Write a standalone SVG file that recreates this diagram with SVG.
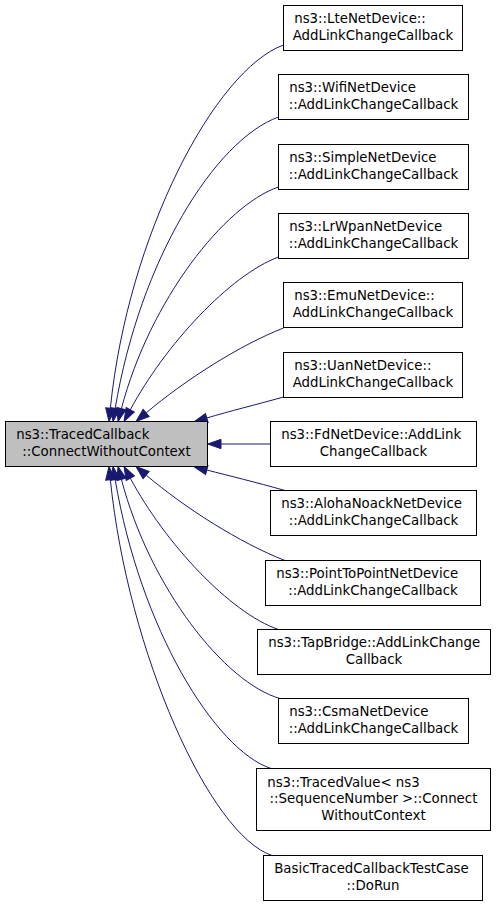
<svg xmlns="http://www.w3.org/2000/svg" width="496" height="907" viewBox="0 0 496 907">
<style>
.nd rect{fill:#fff;stroke:#000;stroke-width:1}
#node1 rect{fill:#bfbfbf}
text{font-family:"DejaVu Sans","Liberation Sans",sans-serif;font-size:13.33px;fill:#000}
.m{text-anchor:middle}
.e path{fill:none;stroke:#191970;stroke-width:1;marker-end:url(#ah)}
</style>
<defs>
<marker id="ah" markerUnits="userSpaceOnUse" viewBox="0 -5 14 10" refX="0" refY="0" markerWidth="14" markerHeight="10" orient="auto" overflow="visible">
<path d="M0,-4.67 L13.3,0 L0,4.67 Z" fill="#191970" stroke="#191970" stroke-width="1"/>
</marker>
</defs>
<rect width="496" height="907" fill="#fff"/>
<g class="e" id="edges">
<path d="M283.5,45 C215,70 128,235 110.35,408.3"/>
<path d="M278.5,117 C215,140 140,260 115.2,408.4"/>
<path d="M278.5,187 C225,205 150,300 121.4,408.6"/>
<path d="M278.5,257 C230,275 165,345 130.3,409.8"/>
<path d="M283.5,328 C240,345 185,380 146.15,412.9"/>
<path d="M283.5,397 C255,405 230,411 206.8,418"/>
<path d="M270.5,444 L221,444"/>
<path d="M285,490.5 C255,482 230,476 206.8,470"/>
<path d="M285,560.5 C240,543 185,508 146.15,475.1"/>
<path d="M278.5,629.5 C230,613 165,543 130.3,478.2"/>
<path d="M280,698.5 C225,683 150,588 121.4,479.4"/>
<path d="M271,768.5 C215,750 140,628 115.2,479.6"/>
<path d="M272,855.5 C210,835 128,653 110.35,479.7"/>
</g>
<g class="nd" id="node1"><rect x="5.5" y="421.5" width="202" height="45"/><text x="16.2" y="439.3">ns3::TracedCallback</text><text class="m" x="106.5" y="455.8">::ConnectWithoutContext</text></g>
<g class="nd" id="node2"><rect x="283.5" y="5.5" width="179" height="45"/><text x="294.2" y="23.3">ns3::LteNetDevice::</text><text class="m" x="373" y="39.8">AddLinkChangeCallback</text></g>
<g class="nd" id="node3"><rect x="278.5" y="74.5" width="190" height="45"/><text x="289.2" y="92.3">ns3::WifiNetDevice</text><text class="m" x="373.5" y="108.8">::AddLinkChangeCallback</text></g>
<g class="nd" id="node4"><rect x="278.5" y="144.5" width="190" height="45"/><text x="289.2" y="162.3">ns3::SimpleNetDevice</text><text class="m" x="373.5" y="178.8">::AddLinkChangeCallback</text></g>
<g class="nd" id="node5"><rect x="278.5" y="213.5" width="190" height="45"/><text x="289.2" y="231.3">ns3::LrWpanNetDevice</text><text class="m" x="373.5" y="247.8">::AddLinkChangeCallback</text></g>
<g class="nd" id="node6"><rect x="283.5" y="282.5" width="179" height="45"/><text x="294.2" y="300.3">ns3::EmuNetDevice::</text><text class="m" x="373" y="316.8">AddLinkChangeCallback</text></g>
<g class="nd" id="node7"><rect x="283.5" y="352.5" width="179" height="45"/><text x="294.2" y="370.3">ns3::UanNetDevice::</text><text class="m" x="373" y="386.8">AddLinkChangeCallback</text></g>
<g class="nd" id="node8"><rect x="270.5" y="421.5" width="206" height="45"/><text x="281.2" y="439.3">ns3::FdNetDevice::AddLink</text><text class="m" x="373.5" y="455.8">ChangeCallback</text></g>
<g class="nd" id="node9"><rect x="270.5" y="490.5" width="206" height="45"/><text x="281.2" y="508.3">ns3::AlohaNoackNetDevice</text><text class="m" x="373.5" y="524.8">::AddLinkChangeCallback</text></g>
<g class="nd" id="node10"><rect x="265.5" y="560.5" width="215" height="45"/><text x="276.2" y="578.3">ns3::PointToPointNetDevice</text><text class="m" x="373" y="594.8">::AddLinkChangeCallback</text></g>
<g class="nd" id="node11"><rect x="257.5" y="629.5" width="233" height="45"/><text x="268.2" y="647.3">ns3::TapBridge::AddLinkChange</text><text class="m" x="374" y="663.8">Callback</text></g>
<g class="nd" id="node12"><rect x="278.5" y="698.5" width="190" height="45"/><text x="289.2" y="716.3">ns3::CsmaNetDevice</text><text class="m" x="373.5" y="732.8">::AddLinkChangeCallback</text></g>
<g class="nd" id="node13"><rect x="256.5" y="768.5" width="234" height="62"/><text x="267.2" y="786.7">ns3::TracedValue&lt; ns3</text><text class="m" x="373.5" y="803.2">::SequenceNumber &gt;::Connect</text><text class="m" x="373.5" y="819.7">WithoutContext</text></g>
<g class="nd" id="node14"><rect x="263.5" y="855.5" width="219" height="45"/><text x="274.2" y="873.3">BasicTracedCallbackTestCase</text><text class="m" x="373" y="889.8">::DoRun</text></g>
</svg>
